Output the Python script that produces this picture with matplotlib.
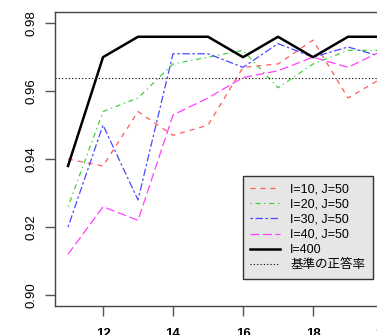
import numpy as np
import matplotlib
matplotlib.use('Agg')
import matplotlib.pyplot as plt

plt.rcParams['font.family'] = ['Liberation Sans', 'Noto Sans CJK JP']

x = [11, 12, 13, 14, 15, 16, 17, 18, 19, 20]
i10 = [0.940, 0.938, 0.954, 0.947, 0.950, 0.967, 0.968, 0.975, 0.958, 0.964]
i20 = [0.926, 0.954, 0.958, 0.968, 0.970, 0.972, 0.961, 0.968, 0.972, 0.972]
i30 = [0.920, 0.950, 0.928, 0.971, 0.971, 0.967, 0.974, 0.970, 0.973, 0.970]
i40 = [0.912, 0.926, 0.922, 0.953, 0.958, 0.964, 0.966, 0.970, 0.967, 0.972]
i400 = [0.938, 0.970, 0.976, 0.976, 0.976, 0.970, 0.976, 0.970, 0.976, 0.976]
baseline = 0.964

labels = ['I=10, J=50', 'I=20, J=50', 'I=30, J=50', 'I=40, J=50', 'I=400', '基準の正答率']
xticks = [12, 14, 16, 18, 20]
yticks = [0.90, 0.92, 0.94, 0.96, 0.98]

fig = plt.figure(figsize=(3.77, 3.35), dpi=100)
ax = fig.add_axes([0.147, 0.0866, 0.9024, 0.8767])

ax.plot(x, i10, color='#ff5a5a', lw=0.9, dashes=(4, 4), label=labels[0])
ax.plot(x, i20, color='#3fcf3f', lw=0.9, dashes=(1, 3, 4, 3), label=labels[1])
ax.plot(x, i30, color='#4a4aff', lw=0.9, dashes=(2, 2, 6, 2), label=labels[2])
ax.plot(x, i40, color='#ff40ff', lw=0.9, dashes=(7, 3), label=labels[3])
ax.plot(x, i400, color='black', lw=1.8, label=labels[4])
ax.axhline(baseline, color='black', lw=0.8, dashes=(1, 2), label=labels[5])

ax.set_xlim(10.64, 20.36)
ax.set_ylim(0.8968, 0.9832)
ax.set_xticks(xticks)
ax.set_xticklabels([str(t) for t in xticks], fontsize=9.5, fontweight='bold')
ax.set_yticks(yticks)
ax.set_yticklabels(['%.2f' % t for t in yticks], fontsize=9.5, rotation=90, va='center')
ax.tick_params(axis='both', length=7, width=1, color='#555555', direction='out')
ax.tick_params(axis='x', pad=9)
ax.tick_params(axis='y', pad=6)
for s in ax.spines.values():
    s.set_color('#444444')
    s.set_linewidth(1)

leg = ax.legend(loc='upper left', bbox_to_anchor=(0.6438, 0.4746),
                bbox_transform=fig.transFigure, borderaxespad=0,
                fontsize=9, frameon=True, fancybox=False,
                facecolor='#e6e6e6', edgecolor='#333333', framealpha=1,
                handlelength=2.4, handletextpad=0.8, labelspacing=0.25,
                borderpad=0.6)
leg.get_frame().set_linewidth(1)

fig.savefig('out.png', dpi=100)
